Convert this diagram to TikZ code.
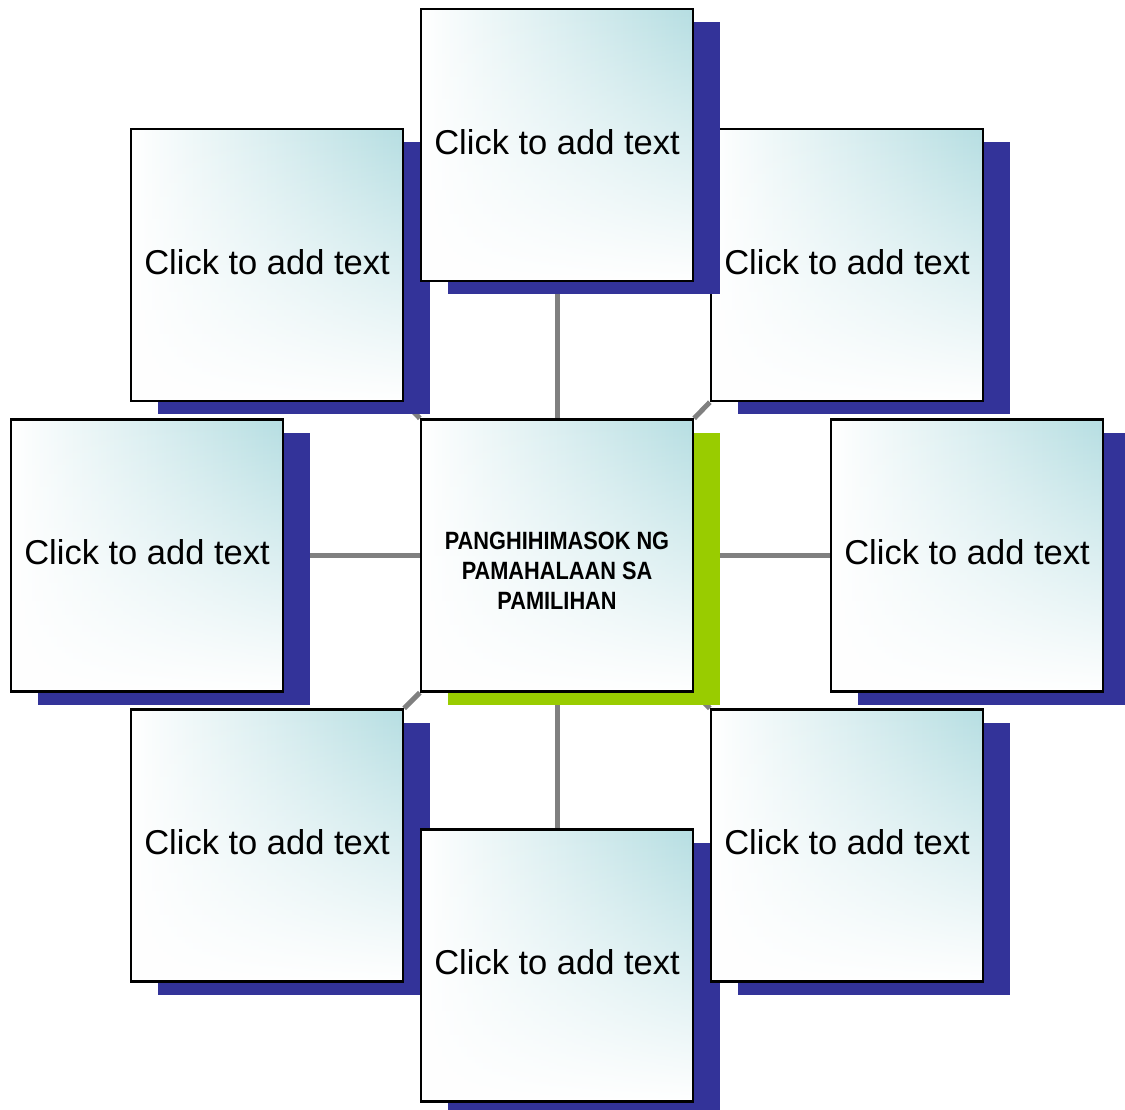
\documentclass[tikz,border=0pt]{standalone}
\usepackage{fontspec}
\setmainfont{Liberation Sans}
\newfontfamily\narrowfont[FakeStretch=0.87]{Liberation Sans}
\usetikzlibrary{shadows,fadings}
\definecolor{tealc}{RGB}{182,222,226}
\definecolor{shadowblue}{RGB}{51,51,153}
\definecolor{shadowgreen}{RGB}{153,204,0}
\definecolor{linkgray}{RGB}{128,128,128}
\tikzfading[name=fadebottom, top color=transparent!100, bottom color=transparent!0]
\pgfdeclarelayer{bg}
\pgfsetlayers{bg,main}
\tikzset{
  card/.style={rectangle, draw=black, line width=2.4pt, minimum width=272pt, minimum height=272pt,
    inner sep=0pt, left color=white, right color=tealc, align=center,
    font=\fontsize{34.5}{40}\selectfont,
    path picture={\fill[white, path fading=fadebottom]
      (path picture bounding box.south west) rectangle (path picture bounding box.north east);},
    general shadow={fill=shadowblue, shadow xshift=27pt, shadow yshift=-13pt}},
  hubcard/.style={card, general shadow={fill=shadowgreen, shadow xshift=27pt, shadow yshift=-13pt},
    font=\narrowfont\bfseries\fontsize{25}{30}\selectfont},
  link/.style={draw=linkgray, line width=5pt}
}
\newcommand\cardtext{\raisebox{3pt}[\height][\depth]{Click to add text}}
\begin{document}
\begin{tikzpicture}[x=1pt, y=-1pt]
\useasboundingbox (0,0) rectangle (1125,1110);
\node[hubcard] (c) at (557,555.5) {\raisebox{-18pt}[\height][\depth]{\begin{tabular}{@{}c@{}}PANGHIHIMASOK NG\\PAMAHALAAN SA\\PAMILIHAN\end{tabular}}};
\node[card] (l) at (147,555.5) {\cardtext};
\node[card] (r) at (967,555.5) {\cardtext};
\node[card] (tr) at (847,265) {\cardtext};
\node[card] (tl) at (267,265) {\cardtext};
\node[card] (t) at (557,145) {\cardtext};
\node[card] (bl) at (267,845.5) {\cardtext};
\node[card] (b) at (557,965.5) {\cardtext};
\node[card] (br) at (847,845.5) {\cardtext};
\begin{pgfonlayer}{bg}
\draw[link] (c.north) -- (t.south);
\draw[link] (c.south) -- (b.north);
\draw[link] (c.west) -- (l.east);
\draw[link] (c.east) -- (r.west);
\draw[link] (c.north west) -- (tl.south east);
\draw[link] (c.north east) -- (tr.south west);
\draw[link] (c.south west) -- (bl.north east);
\draw[link] (c.south east) -- (br.north west);
\end{pgfonlayer}
\end{tikzpicture}
\end{document}
